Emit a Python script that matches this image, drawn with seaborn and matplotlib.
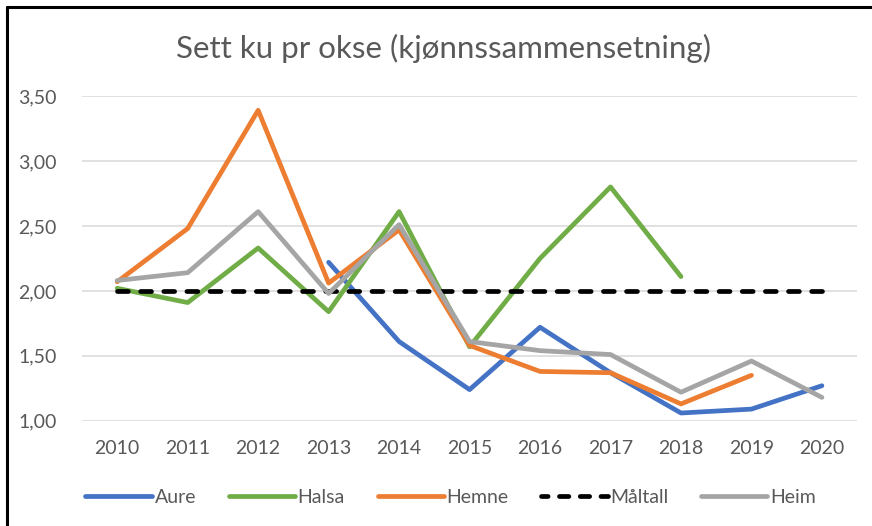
import numpy as np
import pandas as pd
import seaborn as sns
import matplotlib.pyplot as plt
from matplotlib.lines import Line2D

# data
years = [2010, 2011, 2012, 2013, 2014, 2015, 2016, 2017, 2018, 2019, 2020]
aure = [np.nan, np.nan, np.nan, 2.22, 1.61, 1.24, 1.72, 1.37, 1.06, 1.09, 1.27]
halsa = [2.02, 1.91, 2.33, 1.84, 2.61, 1.57, 2.25, 2.80, 2.11, np.nan, np.nan]
hemne = [2.07, 2.48, 3.39, 2.06, 2.47, 1.58, 1.38, 1.37, 1.13, 1.35, np.nan]
maltall = [2.00] * 11
heim = [2.08, 2.14, 2.61, 1.98, 2.51, 1.61, 1.54, 1.51, 1.22, 1.46, 1.18]

series = ["Aure", "Halsa", "Hemne", "Måltall", "Heim"]
colors = ["#4472C4", "#70AD47", "#ED7D31", "#000000", "#A5A5A5"]
y_ticks = [1.0, 1.5, 2.0, 2.5, 3.0, 3.5]
y_labels = ["1,00", "1,50", "2,00", "2,50", "3,00", "3,50"]

df = pd.DataFrame({"År": years, "Aure": aure, "Halsa": halsa, "Hemne": hemne,
                   "Måltall": maltall, "Heim": heim})
long = df.melt(id_vars="År", var_name="Serie", value_name="Verdi").dropna()

sns.set_theme(style="white")
plt.rcParams["font.family"] = ["Lato", "DejaVu Sans"]

fig = plt.figure(figsize=(8.72, 5.26), dpi=100)
ax = fig.add_axes([0.094, 0.200, 0.889, 0.6175])

lw = 3.4
for name, col in zip(series, colors):
    sub = long[long["Serie"] == name]
    sns.lineplot(data=sub, x="År", y="Verdi", color=col, lw=lw, ax=ax,
                 legend=False, zorder=3)
    line = ax.lines[-1]
    line.set_solid_capstyle("round")
    if name == "Måltall":
        line.set_linestyle((0, (2.3, 2.6)))
        line.set_dash_capstyle("round")

ax.set_xlim(2009.5, 2020.5)
ax.set_ylim(1.0, 3.5)
ax.set_xticks(years)
ax.set_xticklabels([str(y) for y in years])
ax.set_yticks(y_ticks)
ax.set_yticklabels(y_labels)
ax.set_xlabel("")
ax.set_ylabel("")
ax.tick_params(axis="both", colors="#595959", labelsize=14, length=0)
ax.tick_params(axis="x", pad=14)
ax.tick_params(axis="y", pad=18)
ax.grid(axis="y", color="#D9D9D9", lw=1.1)
ax.set_axisbelow(True)
sns.despine(ax=ax, left=True, bottom=True)

fig.text(0.509, 0.907, "Sett ku pr okse (kjønnssammensetning)", ha="center",
         va="center", fontsize=22.5, color="#595959")

handles = []
for name, col in zip(series, colors):
    if name == "Måltall":
        h = Line2D([], [], color=col, lw=lw, ls=(0.6, (2.0, 2.4)),
                   dash_capstyle="round")
    else:
        h = Line2D([], [], color=col, lw=lw, solid_capstyle="round")
    handles.append(h)
leg = fig.legend(handles, series, loc="center", bbox_to_anchor=(0.517, 0.055),
                 ncol=5, frameon=False, fontsize=14, handlelength=3.4,
                 handletextpad=0.15, columnspacing=1.68)
for t in leg.get_texts():
    t.set_color("#595959")

# black frame of the original screenshot
fig.add_artist(Line2D([6.5 / 872, 6.5 / 872], [0, 1 - 6.5 / 526],
                      transform=fig.transFigure, color="black", lw=2.2))
fig.add_artist(Line2D([6.5 / 872, 1], [1 - 6.5 / 526, 1 - 6.5 / 526],
                      transform=fig.transFigure, color="black", lw=2.2))

fig.savefig("out.png", dpi=100)
